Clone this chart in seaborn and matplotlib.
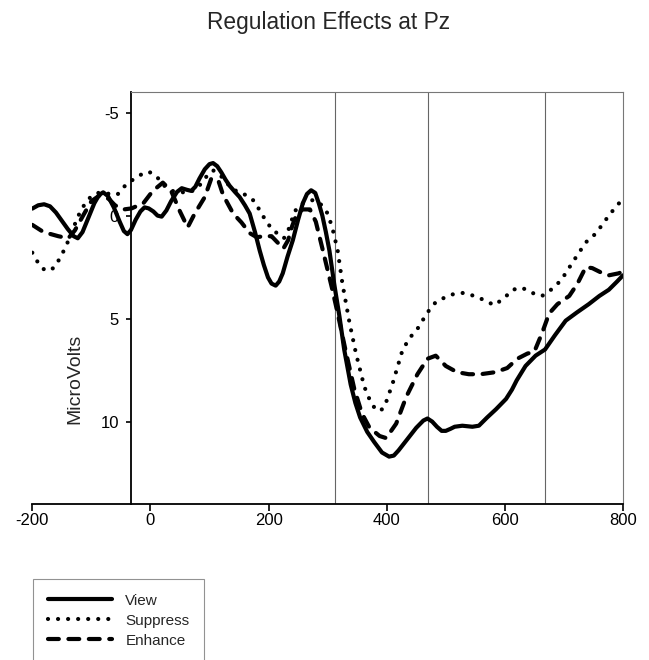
import matplotlib
matplotlib.use("Agg")
import matplotlib.pyplot as plt
import seaborn as sns
import pandas as pd

# ---- data ----
view_x = [-200, -190, -180, -170, -160, -150, -140, -130, -123, -115, -105, -95, -87, -80, -72, -62,
          -52, -45, -39, -33, -25, -17, -10, -3, 5, 12, 19, 27, 35, 45, 53, 62, 69, 76, 83, 92, 100,
          106, 113, 120, 127, 134, 143, 151, 160, 168, 177, 185, 192, 199, 205, 212, 218, 224, 232,
          241, 250, 258, 265, 272, 279, 285, 291, 297, 303, 311, 320, 328, 339, 347, 355, 367, 379,
          392, 404, 412, 420, 435, 450, 462, 469, 477, 485, 493, 500, 508, 515, 528, 545, 556, 570,
          585, 602, 612, 620, 635, 652, 668, 685, 703, 722, 742, 760, 776, 790, 800]
view_y = [-0.34, -0.5, -0.55, -0.45, -0.15, 0.25, 0.65, 1.0, 1.1, 0.8, 0.1, -0.6, -1.0, -1.13,
          -0.95, -0.4, 0.3, 0.75, 0.9, 0.7, 0.2, -0.2, -0.4, -0.35, -0.2, 0.0, 0.05, -0.25, -0.7,
          -1.15, -1.33, -1.25, -1.2, -1.4, -1.8, -2.25, -2.5, -2.55, -2.4, -2.1, -1.75, -1.45, -1.15,
          -0.9, -0.5, -0.1, 0.8, 1.7, 2.4, 3.0, 3.3, 3.4, 3.2, 2.8, 2.0, 1.2, 0.2, -0.6, -1.05,
          -1.23, -1.1, -0.6, 0.0, 0.8, 1.7, 3.3, 4.9, 6.5, 8.2, 9.1, 9.8, 10.5, 11.0, 11.5, 11.7,
          11.65, 11.4, 10.85, 10.3, 9.95, 9.85, 10.0, 10.25, 10.45, 10.45, 10.35, 10.25, 10.2,
          10.25, 10.2, 9.8, 9.4, 8.9, 8.45, 8.0, 7.3, 6.8, 6.5, 5.8, 5.1, 4.7, 4.3, 3.9, 3.6, 3.2, 2.9]

suppress_x = [-200, -190, -179, -170, -162, -150, -137, -125, -117, -110, -103, -97, -89, -81, -68,
              -60, -55, -49, -43, -35, -26, -18, -10, -3, 4, 12, 19, 28, 36, 50, 65, 80, 95, 106,
              120, 135, 150, 162, 176, 190, 204, 216, 226, 235, 244, 255, 265, 275, 285, 293, 300,
              308, 317, 325, 337, 348, 362, 372, 382, 390, 396, 410, 427, 440, 452, 469, 483, 500,
              514, 531, 548, 565, 582, 599, 613, 629, 646, 663, 678, 695, 714, 737, 754, 776, 790, 800]
suppress_y = [1.8, 2.3, 2.65, 2.65, 2.5, 1.9, 1.1, 0.2, -0.3, -0.6, -0.85, -1.0, -1.1, -1.1, -1.05,
              -1.0, -1.05, -1.25, -1.45, -1.65, -1.8, -1.95, -2.1, -2.12, -2.05, -1.85, -1.55, -1.35,
              -1.2, -1.15, -1.1, -1.35, -1.9, -2.2, -1.9, -1.4, -1.1, -1.0, -0.7, 0.0, 0.6, 0.9, 1.1,
              0.6, -0.2, -0.55, -0.7, -0.75, -0.65, -0.4, -0.1, 0.6, 1.7, 3.3, 5.2, 6.7, 8.3, 9.0,
              9.45, 9.45, 9.3, 8.15, 6.5, 5.9, 5.5, 4.7, 4.2, 3.95, 3.8, 3.75, 3.9, 4.1, 4.35, 4.0,
              3.6, 3.5, 3.75, 3.9, 3.6, 3.15, 2.3, 1.3, 0.87, 0.0, -0.5, -0.8]

enhance_x = [-200, -181, -156, -139, -128, -114, -100, -85, -70, -60, -45, -32, -12, 4, 21, 35, 50,
             63, 75, 92, 103, 115, 123, 140, 154, 168, 180, 192, 205, 215, 225, 233, 240, 248, 258,
             270, 280, 292, 300, 308, 317, 330, 345, 358, 371, 388, 399, 416, 433, 452, 469, 483,
             500, 519, 539, 559, 584, 604, 621, 638, 650, 663, 675, 689, 709, 723, 737, 748, 762,
             776, 793, 800]
enhance_y = [0.45, 0.8, 1.0, 1.1, 0.72, 0.0, -0.7, -1.0, -0.8, -0.5, -0.3, -0.35, -0.6, -1.2, -1.6,
             -1.2, -0.2, 0.57, -0.1, -0.9, -1.8, -1.7, -1.0, -0.1, 0.33, 0.85, 1.05, 1.0, 1.0, 1.3,
             1.6, 1.2, 0.5, -0.1, -0.3, -0.3, 0.3, 1.7, 2.65, 3.6, 4.75, 6.5, 8.4, 9.6, 10.3, 10.7,
             10.8, 10.1, 8.8, 7.7, 6.95, 6.8, 7.3, 7.6, 7.7, 7.7, 7.6, 7.4, 6.95, 6.7, 6.6, 5.7,
             4.75, 4.3, 3.9, 3.3, 2.5, 2.55, 2.75, 2.9, 2.8, 2.7]

series_names = ["View", "Suppress", "Enhance"]
window_lines = [312, 470, 668]
x_ticks = [-200, 0, 200, 400, 600, 800]
y_ticks = [-5, 0, 5, 10]

# ---- style ----
sns.set_style("white")
plt.rcParams["font.family"] = ["Liberation Sans", "DejaVu Sans"]
plt.rcParams["axes.unicode_minus"] = False

fig = plt.figure(figsize=(6.49, 6.60), dpi=100)
L, R, T, B = 32.3, 623.0, 92.0, 504.0
ax = fig.add_axes([L / 649, 1 - B / 660, (R - L) / 649, (B - T) / 660])

styles = {
    "View": dict(linestyle="-"),
    "Suppress": dict(linestyle=(0, (0.01, 2.4))),
    "Enhance": dict(linestyle=(0, (2.6, 2.3))),
}
data = {"View": (view_x, view_y), "Suppress": (suppress_x, suppress_y),
        "Enhance": (enhance_x, enhance_y)}

handles = []
for name in series_names:
    xs, ys = data[name]
    df = pd.DataFrame({"ms": xs, "uv": ys})
    n_before = len(ax.lines)
    sns.lineplot(data=df, x="ms", y="uv", ax=ax, color="black", lw=3.0, sort=False,
                 estimator=None, legend=False, **styles[name])
    ln = ax.lines[n_before]
    ln.set_dash_capstyle("round")
    ln.set_solid_capstyle("round")
    ln.set_solid_joinstyle("round")
    ln.set_dash_joinstyle("round")
    ln.set_label(name)
    handles.append(ln)

for wx in window_lines:
    ax.axvline(wx, color="#666666", lw=0.8, zorder=0)

ax.set_xlim(-200, 800)
ax.set_ylim(14, -6)
ax.set_xticks(x_ticks)
ax.set_yticks(y_ticks)
ax.set_xticklabels([str(v) for v in x_ticks])
ax.set_yticklabels([str(v) for v in y_ticks])

ax.spines["left"].set_position(("data", -33))
ax.spines["left"].set_color("black")
ax.spines["left"].set_linewidth(1.3)
ax.spines["bottom"].set_color("black")
ax.spines["bottom"].set_linewidth(1.3)
ax.spines["top"].set_bounds(-33, 800)
ax.spines["top"].set_color("#777777")
ax.spines["top"].set_linewidth(0.8)
ax.spines["right"].set_color("#777777")
ax.spines["right"].set_linewidth(0.8)

ax.tick_params(axis="x", direction="out", length=5, width=1.2, pad=1.5, labelsize=12,
               colors="black", bottom=True)
ax.tick_params(axis="y", direction="out", length=3.6, width=1.2, pad=5, labelsize=12,
               colors="black", left=True)

ax.set_xlabel("")
ax.set_ylabel("MicroVolts", fontsize=14)
ax.yaxis.set_label_coords((74.5 - L) / (R - L), (B - 379) / (B - T))
ax.yaxis.label.set_horizontalalignment("center")
ax.yaxis.label.set_verticalalignment("center")

fig.text(329 / 649, 1 - 23 / 660, "Regulation Effects at Pz", ha="center", va="center",
         fontsize=16.4)

leg = fig.legend(handles=handles, labels=series_names, loc="upper left",
                 bbox_to_anchor=(33 / 649, 1 - 579 / 660), fontsize=11, frameon=True,
                 fancybox=False, handlelength=4.25, handletextpad=0.85, borderpad=0.95,
                 labelspacing=0.4, borderaxespad=0)
leg.get_frame().set_edgecolor("#777777")
leg.get_frame().set_linewidth(0.8)

fig.savefig("out.png", dpi=100)
